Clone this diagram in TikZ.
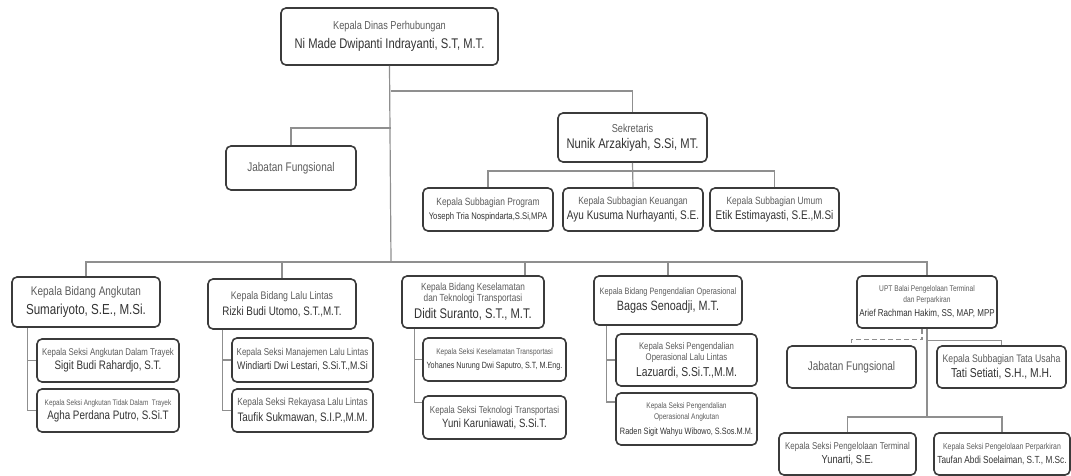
\documentclass[tikz,border=0pt]{standalone}
\usepackage{fontspec}
\setmainfont{Liberation Sans}[FakeStretch=0.8]
\usepackage{tikz}
\definecolor{mdark}{rgb}{0.23, 0.23, 0.23}
\definecolor{mgrey}{rgb}{0.56, 0.56, 0.56}
\definecolor{mtext}{rgb}{0.36, 0.36, 0.36}
\definecolor{mname}{rgb}{0.2, 0.2, 0.2}
\tikzset{post/.style = {draw=mdark, line width=1.6pt, rounded corners=5pt, fill=white,
                        align=center, inner sep=1pt, text=mname,
                        font=\fontsize{9}{11}\selectfont},
         link/.style = {draw=mgrey, line width=1.2pt}}
\newcommand{\jrole}[2]{{\fontsize{#1}{#1}\selectfont\color{mtext}#2}}
\newcommand{\jname}[2]{{\fontsize{#1}{#1}\selectfont #2}}

\begin{document}
\begin{tikzpicture}[x=1pt, y=-1pt]
    \useasboundingbox (0, 0) rectangle (1071, 476);

    \node [post, minimum width=217, minimum height=57] (kadis) at (389.5, 36.5)
          {\jrole{11.5}{Kepala Dinas Perhubungan}\\[6pt]\jname{14}{Ni Made Dwipanti Indrayanti, S.T, M.T.}};
    \node [post, minimum width=130, minimum height=44] (fung) at (291, 168)
          {\jrole{12.5}{Jabatan Fungsional}};
    \node [post, minimum width=149, minimum height=49] (sekre) at (632.5, 137.5)
          {\jrole{11.5}{Sekretaris}\\[5pt]\jname{14}{Nunik Arzakiyah, S.Si, MT.}};
    \node [post, minimum width=130, minimum height=43] (program) at (488, 209.5)
          {\jrole{10.5}{Kepala Subbagian Program}\\[3pt]\jname{9.6}{Yoseph Tria Nospindarta,S.Si,MPA}};
    \node [post, minimum width=140, minimum height=43] (keuangan) at (633, 209.5)
          {\jrole{10.5}{Kepala Subbagian Keuangan}\\[3pt]\jname{12.5}{Ayu Kusuma Nurhayanti, S.E.}};
    \node [post, minimum width=129, minimum height=43] (umum) at (774.5, 209.5)
          {\jrole{10.5}{Kepala Subbagian Umum}\\[3pt]\jname{12.5}{Etik Estimayasti, S.E.,M.Si}};

    \node [post, minimum width=148, minimum height=50] (angkutan) at (86, 302)
          {\jrole{12.5}{Kepala Bidang Angkutan}\\[4pt]\jname{14.5}{Sumariyoto, S.E., M.Si.}};
    \node [post, minimum width=142, minimum height=43] (sa1) at (108, 360.5)
          {\jrole{9.8}{Kepala Seksi Angkutan Dalam Trayek}\\[3pt]\jname{12.3}{Sigit Budi Rahardjo, S.T.}};
    \node [post, minimum width=142, minimum height=43] (sa2) at (108, 410.5)
          {\jrole{8}{Kepala Seksi Angkutan Tidak Dalam\ \ Trayek}\\[3pt]\jname{12.3}{Agha Perdana Putro, S.Si.T}};

    \node [post, minimum width=148, minimum height=50] (lalin) at (282, 304)
          {\jrole{11}{Kepala Bidang Lalu Lintas}\\[4pt]\jname{12.3}{Rizki Budi Utomo, S.T.,M.T.}};
    \node [post, minimum width=141, minimum height=44] (sl1) at (302.5, 360)
          {\jrole{10}{Kepala Seksi Manajemen Lalu Lintas}\\[3pt]\jname{11}{Windiarti Dwi Lestari, S.Si.T.,M.Si}};
    \node [post, minimum width=141, minimum height=43] (sl2) at (302.5, 410.5)
          {\jrole{10.4}{Kepala Seksi Rekayasa Lalu Lintas}\\[3pt]\jname{12.3}{Taufik Sukmawan, S.I.P.,M.M.}};

    \node [post, minimum width=142, minimum height=52] (selamat) at (473, 302)
          {\jrole{10.3}{Kepala Bidang Keselamatan}\\\jrole{10.3}{dan Teknologi Transportasi}\\[4pt]\jname{14}{Didit Suranto, S.T., M.T.}};
    \node [post, minimum width=143, minimum height=43] (sk1) at (494.5, 359.5)
          {\jrole{8.2}{Kepala Seksi Keselamatan Transportasi}\\[3pt]\jname{9}{Yohanes Nurung Dwi Saputro, S.T, M.Eng.}};
    \node [post, minimum width=143, minimum height=43] (sk2) at (494.5, 417.5)
          {\jrole{10}{Kepala Seksi Teknologi Transportasi}\\[3pt]\jname{12}{Yuni Karuniawati, S.Si.T.}};

    \node [post, minimum width=148, minimum height=49] (kendali) at (668, 300.5)
          {\jrole{9.2}{Kepala Bidang Pengendalian Operasional}\\[4pt]\jname{13.5}{Bagas Senoadji, M.T.}};
    \node [post, minimum width=141, minimum height=52] (sp1) at (686.5, 360)
          {\jrole{9.7}{Kepala Seksi Pengendalian}\\\jrole{9.7}{Operasional Lalu Lintas}\\[4pt]\jname{12.9}{Lazuardi, S.Si.T.,M.M.}};
    \node [post, minimum width=141, minimum height=52] (sp2) at (686.5, 419)
          {\jrole{8.2}{Kepala Seksi Pengendalian}\\\jrole{8.2}{Operasional Angkutan}\\[4pt]\jname{9.2}{Raden Sigit Wahyu Wibowo, S.Sos.M.M.}};

    \node [post, minimum width=140, minimum height=52] (upt) at (927, 302)
          {\jrole{8.3}{UPT Balai Pengelolaan Terminal}\\\jrole{8.3}{dan Perparkiran}\\[3pt]\jname{10}{Arief Rachman Hakim, SS, MAP, MPP}};
    \node [post, minimum width=129, minimum height=42] (fung2) at (851.5, 367)
          {\jrole{12.5}{Jabatan Fungsional}};
    \node [post, minimum width=129, minimum height=42] (tatausaha) at (1001.5, 367)
          {\jrole{10.9}{Kepala Subbagian Tata Usaha}\\[3pt]\jname{12.9}{Tati Setiati, S.H., M.H.}};
    \node [post, minimum width=137, minimum height=42] (terminal) at (847.5, 454)
          {\jrole{9.9}{Kepala Seksi Pengelolaan Terminal}\\[3pt]\jname{11.6}{Yunarti, S.E.}};
    \node [post, minimum width=136, minimum height=42] (parkir) at (1002, 454)
          {\jrole{8.6}{Kepala Seksi Pengelolaan Perparkiran}\\[3pt]\jname{10.3}{Taufan Abdi Soelaiman, S.T., M.Sc.}};

    \coordinate (dinas1) at (391, 91);
    \coordinate (dinas2) at (391, 128);
    \coordinate (bus) at (391, 262);
    \coordinate (sekbus) at (632.5, 171);
    \coordinate (uptbus) at (927, 417);
    \coordinate (selamatlink) at ([xshift=52pt]selamat.north);

    \draw [link] (kadis.south) -- (bus);
    \draw [link] (dinas1) -| (sekre.north);
    \draw [link] (dinas2) -| (fung.north);
    \draw [link] (sekre.south) -- (keuangan.north);
    \draw [link] (program.north) |- (sekbus) -| (umum.north);

    \draw [link] (angkutan.north) |- (bus) -| (upt.north);
    \draw [link] (lalin.north) -- (lalin.north |- bus);
    \draw [link] (selamatlink) -- (selamatlink |- bus);
    \draw [link] (kendali.north) -- (kendali.north |- bus);

    \draw [link] ([xshift=16pt]angkutan.south west) |- (sa1.west);
    \draw [link] ([xshift=16pt]angkutan.south west) |- (sa2.west);
    \draw [link] ([xshift=15pt]lalin.south west) |- (sl1.west);
    \draw [link] ([xshift=15pt]lalin.south west) |- (sl2.west);
    \draw [link] ([xshift=13pt]selamat.south west) |- (sk1.west);
    \draw [link] ([xshift=13pt]selamat.south west) |- ([yshift=15pt]sk2.west);
    \draw [link] ([xshift=13pt]kendali.south west) |- (sp1.west);
    \draw [link] ([xshift=13pt]kendali.south west) |- ([yshift=17pt]sp2.west);

    \draw [link] (upt.south) -- (uptbus);
    \draw [link] (terminal.north) |- (uptbus) -| (parkir.north);
    \draw [link] (upt.south) ++(0, 12) -| (tatausaha.north);
    \draw [link, dash pattern=on 5pt off 3pt] ([xshift=-5pt]upt.south) -- ++(0, 11) -| (fung2.north);
\end{tikzpicture}
\end{document}
